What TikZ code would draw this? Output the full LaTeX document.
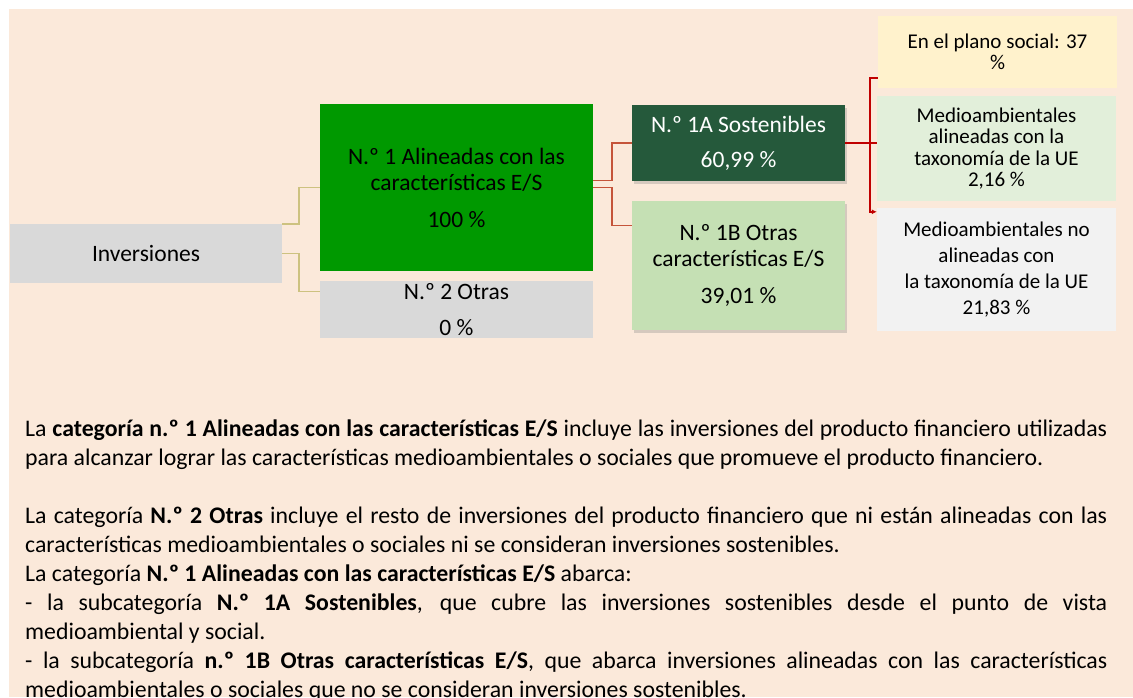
\documentclass[tikz,border=0pt]{standalone}
\usepackage{fontspec}
\setmainfont{Carlito}
\usepackage{tikz}
\usetikzlibrary{arrows.meta,shadows}

\definecolor{fondo}{RGB}{251,233,218}
\definecolor{grisbox}{RGB}{217,217,217}
\definecolor{verdeES}{RGB}{0,153,0}
\definecolor{verdeosc}{RGB}{37,89,59}
\definecolor{verdeclaro}{RGB}{197,224,180}
\definecolor{amarillo}{RGB}{255,242,204}
\definecolor{verdepalido}{RGB}{226,239,218}
\definecolor{grisclaro}{RGB}{242,242,242}
\definecolor{oliva}{RGB}{205,194,128}
\definecolor{rojizo}{RGB}{197,84,58}
\definecolor{rojo}{RGB}{192,0,0}

\begin{document}
\begin{tikzpicture}[x=1pt,y=-1pt,
    box/.style={rectangle, inner sep=0pt, align=center, font=\fontsize{23.5}{26}\selectfont},
    sidebox/.style={box, minimum width=239pt, font=\fontsize{21}{21.5}\selectfont},
    linkA/.style={oliva, line width=1.5pt},
    linkB/.style={rojizo, line width=1.8pt},
    linkC/.style={rojo, line width=1.5pt},
    shade/.style={drop shadow={shadow xshift=2pt, shadow yshift=-3pt, opacity=0.3}},
    bodytext/.style={text width=1082pt, align=justify, inner sep=0pt, font=\fontsize{23.8}{29}\selectfont}]

  % page and background
  \useasboundingbox (0,0) rectangle (1133,697);
  \clip (0,0) rectangle (1133,697);
  \fill[fondo] (9,9) rectangle (1133,697);

  % first level
  \node[box, fill=grisbox, minimum width=272pt, minimum height=59pt] (inv) at (146,253.5) {Inversiones};
  \node[box, fill=verdeES, minimum width=273pt, minimum height=167pt] (al1) at (456.5,187.5)
    {N.º 1 Alineadas con las\\ características E/S\\[11pt] 100 \%};
  \node[box, fill=grisbox, minimum width=273pt, minimum height=57pt] (ot2) at (456.5,309.5)
    {N.º 2 Otras\\[10pt] 0 \%};

  % second level
  \node[box, shade, fill=verdeosc, text=white, minimum width=213pt, minimum height=76pt] (s1a) at (738.5,143)
    {N.º 1A Sostenibles\\[9pt] 60,99 \%};
  \node[box, shade, fill=verdeclaro, minimum width=213pt, minimum height=129pt] (o1b) at (738.5,265.5)
    {N.º 1B Otras\\ características E/S\\[11pt] 39,01 \%};

  % third level
  \node[sidebox, fill=amarillo, minimum height=72pt] (soc) at (997.5,52)
    {En el plano social: 37\\ \%};
  \node[sidebox, fill=verdepalido, minimum height=105pt] (tax) at (996.5,148.5)
    {Medioambientales\\ alineadas con la\\ taxonomía de la UE\\ 2,16 \%};
  \node[sidebox, fill=grisclaro, minimum height=123pt, font=\fontsize{21}{26}\selectfont] (ntax) at (996.5,269.5)
    {Medioambientales no\\ alineadas con\\ la taxonomía de la UE\\ 21,83 \%};

  % connectors
  \draw[linkA] (inv.north east) -- ++(17,0) |- (al1.west);
  \draw[linkA] (inv.east) -- ++(17,0) |- ([yshift=18pt]ot2.west);
  \draw[linkB] ([yshift=7pt]al1.east) -- ++(19,0) |- (s1a.west);
  \draw[linkB] (al1.east) -- ++(19,0) |- ([yshift=40pt]o1b.west);
  \coordinate (fork) at ([xshift=25pt]s1a.east);
  \draw[linkC] (s1a.east) -- (s1a.east -| tax.west);
  \draw[linkC, -{Latex[length=5pt,width=5pt]}] ([yshift=10pt]soc.south west) -| (fork) |- ([yshift=-4pt]ntax.north west);

  % explanation
  \node[bodytext, anchor=north west] (expl) at (25,420) {%
    La \textbf{categoría n.º 1 Alineadas con las características E/S} incluye las inversiones del producto financiero utilizadas para alcanzar lograr las características medioambientales o sociales que promueve el producto financiero.\par
    \vspace{29pt}
    La categoría \textbf{N.º 2 Otras} incluye el resto de inversiones del producto financiero que ni están alineadas con las características medioambientales o sociales ni se consideran inversiones sostenibles.\par
    La categoría \textbf{N.º 1 Alineadas con las características E/S} abarca:\par
    - la subcategoría \textbf{N.º 1A Sostenibles}, que cubre las inversiones sostenibles desde el punto de vista\linebreak medioambiental y social.\par
    - la subcategoría \textbf{n.º 1B Otras características E/S}, que abarca inversiones alineadas con las características medioambientales o sociales que no se consideran inversiones sostenibles.};
\end{tikzpicture}
\end{document}
